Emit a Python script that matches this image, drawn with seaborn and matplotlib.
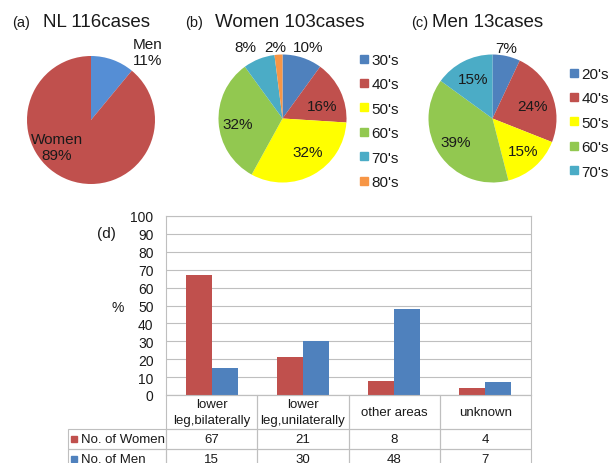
import numpy as np
import pandas as pd
import matplotlib
matplotlib.use("Agg")
import matplotlib.pyplot as plt
from matplotlib.table import Table
from matplotlib.lines import Line2D
import seaborn as sns

# (a) all cases by sex
sex_labels = ["Men", "Women"]
sex_pct = [11, 89]

# (b) women by age group
women_ages = ["30's", "40's", "50's", "60's", "70's", "80's"]
women_pct = [10, 16, 32, 32, 8, 2]

# (c) men by age group
men_ages = ["20's", "40's", "50's", "60's", "70's"]
men_pct = [7, 24, 15, 39, 15]

# (d) lesion site, % of each sex
sites = ["lower\nleg,bilaterally", "lower\nleg,unilaterally", "other areas", "unknown"]
women_site = [67, 21, 8, 4]
men_site = [15, 30, 48, 7]
series_names = ["No. of Women", "No. of Men"]

RED = "#C0504D"
BLUE = "#4F81BD"
age_colors = {"20's": "#4F81BD", "30's": "#4F81BD", "40's": "#C0504D", "50's": "#FFFF00",
              "60's": "#92C850", "70's": "#4BACC6", "80's": "#F79646"}
TXT = "#1a1a1a"
GRID = "#BFBFBF"

sns.set_style("white")
plt.rcParams["font.family"] = ["Liberation Sans", "DejaVu Sans"]

W, H = 611, 464
fig = plt.figure(figsize=(W / 100, H / 100), dpi=100)


def fx(px):
    return px / W


def fy(py):
    return 1 - py / H


def pie_axes(cx, cy, r=64):
    half = r * 1.25
    return fig.add_axes([fx(cx - half), fy(cy + half), fx(2 * half), 2 * half / H])


def draw_pie(ax, values, colors, label_xy, label_txt):
    wedges, _ = ax.pie(values, colors=colors, startangle=90, counterclock=False,
                       wedgeprops=dict(linewidth=0))
    ax.set_xlim(-1.25, 1.25)
    ax.set_ylim(-1.25, 1.25)
    for (x, y), t in zip(label_xy, label_txt):
        ax.text(x, y, t, ha="center", va="center", fontsize=11, color=TXT)
    return wedges


def square_keys(colors):
    return [Line2D([], [], marker="s", markersize=5.5, color=c, linestyle="none") for c in colors]


# ---- (a)
ax_a = pie_axes(91, 121)
draw_pie(ax_a, sex_pct, ["#558ED5", RED],
         [(0.89, 1.06), (-0.53, -0.42)],
         [f"{n}\n{v}%" for n, v in zip(sex_labels, sex_pct)])

# ---- (b)
ax_b = pie_axes(282.5, 119.5)
colors_b = [age_colors[a] for a in women_ages]
draw_pie(ax_b, women_pct, colors_b,
         [(0.40, 1.11), (0.62, 0.19), (0.39, -0.53), (-0.70, -0.09), (-0.58, 1.11), (-0.12, 1.11)],
         [f"{v}%" for v in women_pct])

# ---- (c)
ax_c = pie_axes(492.5, 119.5)
colors_c = [age_colors[a] for a in men_ages]
draw_pie(ax_c, men_pct, colors_c,
         [(0.21, 1.10), (0.62, 0.19), (0.48, -0.50), (-0.57, -0.36), (-0.31, 0.61)],
         [f"{v}%" for v in men_pct])

leg_kw = dict(loc="upper left", frameon=False, fontsize=11, handlelength=0.5,
              handletextpad=0.25, labelspacing=0.68, borderpad=0, borderaxespad=0, labelcolor=TXT)
fig.legend(square_keys(colors_b), women_ages, bbox_to_anchor=(fx(360), fy(54)), **leg_kw)
fig.legend(square_keys(colors_c), men_ages, bbox_to_anchor=(fx(570), fy(68)), **leg_kw)

# titles
for x_tag, x_title, tag, title in [(12, 43, "(a)", "NL 116cases"),
                                   (185, 215, "(b)", "Women 103cases"),
                                   (411, 432, "(c)", "Men 13cases")]:
    fig.text(fx(x_tag), fy(27), tag, fontsize=10.5, color=TXT, va="baseline")
    fig.text(fx(x_title), fy(27), title, fontsize=13.5, color=TXT, va="baseline")

# ---- (d) bar chart
ax_d = fig.add_axes([fx(166), fy(396), fx(365), 179 / H])
df = pd.DataFrame({
    "site": sites * 2,
    "group": [series_names[0]] * len(sites) + [series_names[1]] * len(sites),
    "pct": women_site + men_site,
})
sns.barplot(data=df, x="site", y="pct", hue="group", hue_order=series_names,
            palette=[RED, BLUE], width=0.57, saturation=1, linewidth=0,
            legend=False, ax=ax_d)
ax_d.set_xlim(-0.5, len(sites) - 0.5)
ax_d.set_ylim(0, 100)
ax_d.set_yticks(np.arange(0, 101, 10))
ax_d.set_xticks([])
ax_d.set_xlabel("")
ax_d.set_ylabel("")
ax_d.tick_params(axis="y", length=0, pad=9, labelsize=10, labelcolor=TXT)
ax_d.yaxis.grid(True, color=GRID, linewidth=0.8)
ax_d.set_axisbelow(True)
for s in ax_d.spines.values():
    s.set_visible(True)
    s.set_color(GRID)
    s.set_linewidth(0.8)

fig.text(fx(118), fy(308), "%", fontsize=10, color=TXT, ha="center", va="center")
fig.text(fx(106), fy(234), "(d)", fontsize=11, color=TXT, ha="center", va="center")

# data table under the bars
col_w = [98] + [91.25] * len(sites)
row_h = [34, 20, 20]
rows = [[""] + sites,
        [series_names[0]] + [str(v) for v in women_site],
        [series_names[1]] + [str(v) for v in men_site]]
tab = Table(ax_d, bbox=[-98 / 365, -sum(row_h) / 179, sum(col_w) / 365, sum(row_h) / 179])
for r in range(len(rows)):
    for c in range(len(col_w)):
        cell = tab.add_cell(r, c, width=col_w[c], height=row_h[r], text=rows[r][c],
                            loc="left" if c == 0 else "center",
                            edgecolor=GRID, facecolor="none")
        cell.set_linewidth(0.8)
        cell.get_text().set_color(TXT)
        cell.get_text().set_linespacing(1.35)
        if c == 0:
            cell.PAD = 0.13
tab[0, 0].visible_edges = "open"
tab.auto_set_font_size(False)
tab.set_fontsize(9.5)
ax_d.add_table(tab)

for yk, col in [(440, RED), (459.5, BLUE)]:
    fig.add_artist(Line2D([fx(74)], [fy(yk)], marker="s", markersize=4.5, color=col,
                          linestyle="none", transform=fig.transFigure))

fig.savefig("out.png", dpi=100)
